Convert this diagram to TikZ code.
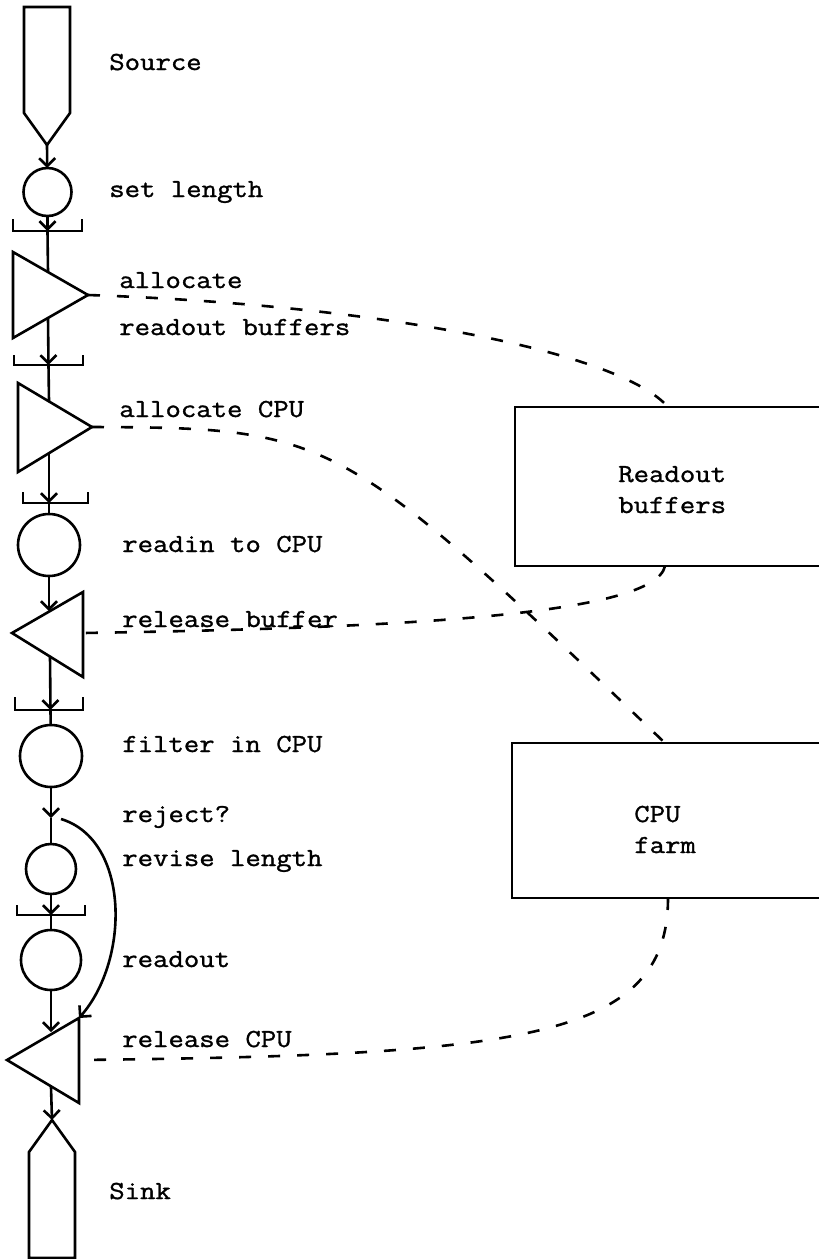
\documentclass[tikz,border=0pt]{standalone}
\usepackage{fontspec}
\setmonofont{Latin Modern Mono}[FakeStretch=1.15,FakeBold=1.2]
\usetikzlibrary{arrows.meta}
\begin{document}
\begin{tikzpicture}[x=1pt,y=-1pt,line width=2.6pt,line join=miter,
  >={Straight Barb[length=8pt,width=16pt]},
  flow/.style={->,line width=2.6pt},
  link/.style={line width=2.6pt,dash pattern=on 12pt off 17pt},
  stage/.style={circle,draw,inner sep=0pt,outer sep=0pt,line width=2.6pt},
  box/.style={rectangle,draw,inner sep=0pt,outer sep=0pt,line width=2.6pt,anchor=north west},
  lbl/.style={anchor=base west,inner sep=0pt,font=\ttfamily\fontsize{26}{31}\selectfont}]
\useasboundingbox (0,0) rectangle (819,1259);
\clip (0,0) rectangle (819,1259);

% source
\draw (24,7) -- (70,7) -- (70,113) -- (47,145) coordinate (src) -- (24,113) -- cycle;
% circles
\node[stage,minimum size=48pt] (c1) at (47.5,192) {};
\node[stage,minimum size=62pt] (c2) at (49,545) {};
\node[stage,minimum size=62pt] (c3) at (51,756) {};
\node[stage,minimum size=50pt] (c4) at (51,869) {};
\node[stage,minimum size=60pt] (c5) at (51,960) {};
% triangles
\draw (13,252) -- (88,295) coordinate (t1tip) -- (13,338) -- cycle;
\coordinate (t1in) at (48,272); \coordinate (t1out) at (48,318);
\draw (18,383) -- (92,427) coordinate (t2tip) -- (18,472) -- cycle;
\coordinate (t2in) at (49,401); \coordinate (t2out) at (49,454);
\draw (12,633) -- (83,592) -- (83,677) -- cycle;
\coordinate (t3r) at (83,633);
\coordinate (t3in) at (49,611); \coordinate (t3out) at (50,656);
\draw (7,1060) -- (79,1018) coordinate (t4corner) -- (79,1103) -- cycle;
\coordinate (t4r) at (79,1060);
\coordinate (t4in) at (51,1032); \coordinate (t4out) at (51,1087);
% sink
\draw (52,1120) coordinate (snk) -- (75,1152) -- (75,1258) -- (29,1258) -- (29,1152) -- cycle;
% brackets
\draw (13,219) -- (13,231) -- (82,231) -- (82,219); \coordinate (b1) at (47.5,231);
\draw (14,355) -- (14,365) -- (83,365) -- (83,355); \coordinate (b2) at (48.5,365);
\draw (23,492) -- (23,503) -- (88,503) -- (88,492); \coordinate (b3) at (49,503);
\draw (15,697) -- (15,710) -- (83,710) -- (83,697); \coordinate (b4) at (50.5,710);
\draw (17,905) -- (17,915) -- (85,915) -- (85,905); \coordinate (b5) at (51,915);
\coordinate (j) at (51,818); \coordinate (rj) at (61,819);
% boxes
\node[box,minimum width=400pt,minimum height=159pt] (rb) at (515,407) {};
\node[box,minimum width=400pt,minimum height=155pt] (cf) at (512,743) {};
\coordinate (rbin) at (668,407); \coordinate (rbout) at (665,566);
\coordinate (cfin) at (665,743); \coordinate (cfout) at (668,898);

% flow connectors
\draw[flow] (src) -- (c1);
\draw[flow] (c1) -- (b1);
\draw (b1) -- (t1in);
\draw[flow] (t1out) -- (b2);
\draw (b2) -- (t2in);
\draw[flow] (t2out) -- (b3);
\draw (b3) -- (c2);
\draw[flow] (c2) -- (t3in);
\draw[flow] (t3out) -- (b4);
\draw (b4) -- (c3);
\draw[flow] (c3) -- (j);
\draw (j) -- (c4);
\draw[flow] (rj) .. controls (130,840) and (130,960) .. (t4corner);
\draw[flow] (c4) -- (b5);
\draw (b5) -- (c5);
\draw[flow] (c5) -- (t4in);
\draw[flow] (t4out) -- (snk);

% resource links
\draw[link] (t1tip) .. controls (380,305) and (620,352) .. (rbin);
\draw[link] (t2tip) .. controls (334,428) and (340,432) .. (cfin);
\draw[link] (rbout) .. controls (655,615) and (400,628) .. (t3r);
\draw[link] (cfout) .. controls (668,1040) and (520,1055) .. (t4r);

% labels
\node[lbl] (lsrc) at (108,70) {Source};
\node[lbl] (lset) at (108,197) {set length};
\node[lbl] (lal1) at (118,288) {allocate};
\node[lbl] (lal2) at (118,335) {readout buffers};
\node[lbl] (lalc) at (118,417) {allocate CPU};
\node[lbl] (lrin) at (121,552) {readin to CPU};
\node[lbl] (lrb) at (121,627) {release buffer};
\node[lbl] (lfil) at (121,752) {filter in CPU};
\node[lbl] (lrej) at (121,822) {reject?};
\node[lbl] (lrev) at (121,866) {revise length};
\node[lbl] (lro) at (121,967) {readout};
\node[lbl] (lrc) at (121,1047) {release CPU};
\node[lbl] (lsnk) at (108,1199) {Sink};
\node[lbl] (lrb1) at (617,482) {Readout};
\node[lbl] (lrb2) at (617,513) {buffers};
\node[lbl] (lcf1) at (633,822) {CPU};
\node[lbl] (lcf2) at (633,853) {farm};
\end{tikzpicture}
\end{document}
